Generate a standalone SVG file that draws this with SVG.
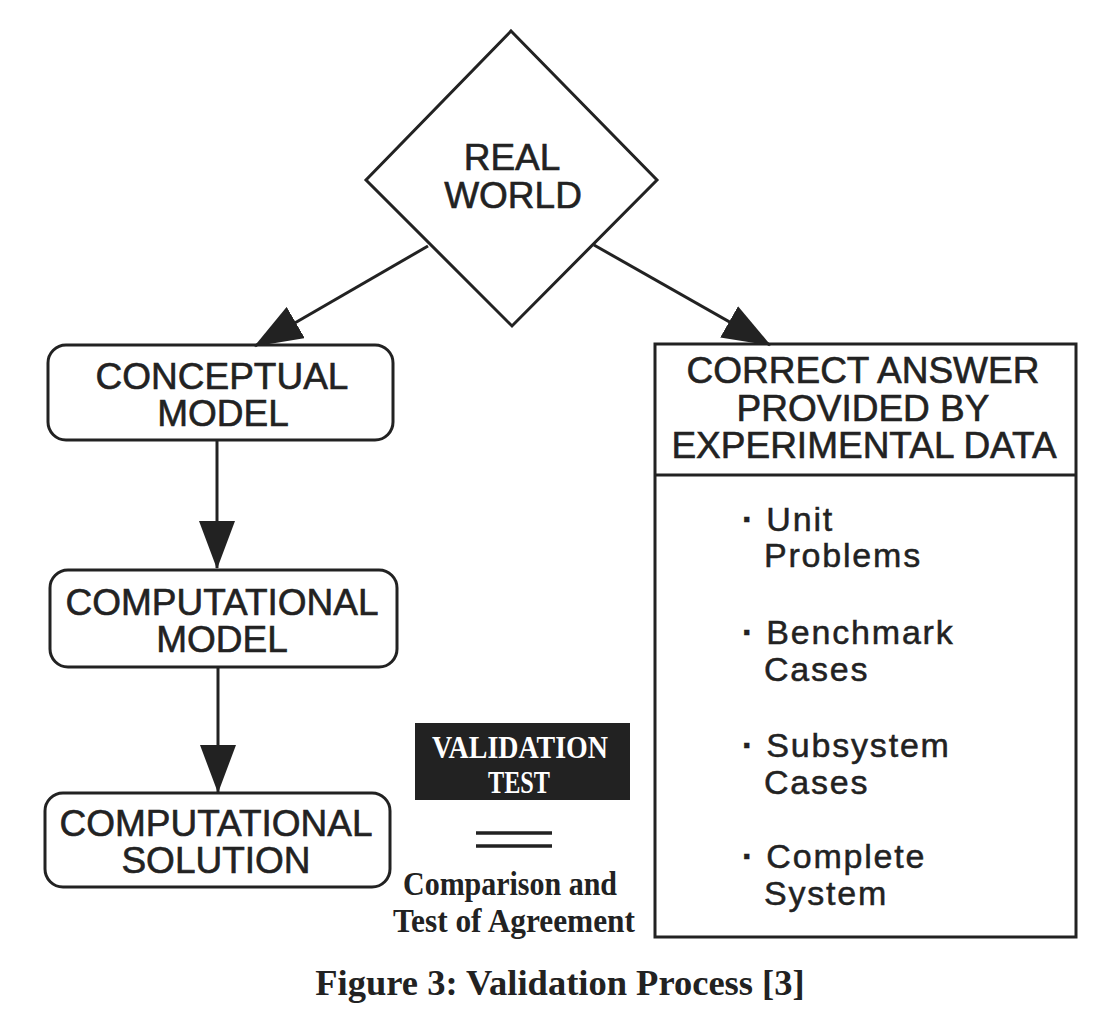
<svg xmlns="http://www.w3.org/2000/svg" width="1095" height="1021" viewBox="0 0 1095 1021">
<style>
.shape{fill:#fff;stroke:#222;stroke-width:3}
.lbl{font-family:"Liberation Sans",Arial,Helvetica,sans-serif;font-size:37px;fill:#222;stroke:#222;stroke-width:0.6px;text-anchor:middle}
.item{font-family:"Liberation Sans",Arial,Helvetica,sans-serif;font-size:34px;fill:#222;stroke:#222;stroke-width:0.5px;letter-spacing:1.8px}
.dot{font-weight:bold}
.serif{font-family:"Liberation Serif","Times New Roman",serif;font-weight:bold;fill:#222}
.conn{stroke:#222;stroke-width:3;fill:none}
</style>
<defs>
<marker id="ah" markerUnits="userSpaceOnUse" markerWidth="48" markerHeight="36" viewBox="0 0 48 36" refX="47" refY="18" orient="auto">
<path d="M0,0 L48,18 L0,36 z" fill="#222"/>
</marker>
</defs>
<rect width="1095" height="1021" fill="#fff"/>

<g id="real-world">
<polygon class="shape" points="511,31 657,180 512,326 366,180"/>
<text class="lbl" x="512" y="170">REAL</text>
<text class="lbl" x="513" y="208">WORLD</text>
</g>

<g id="conceptual-model">
<rect class="shape" x="48" y="345" width="345" height="95" rx="18"/>
<text class="lbl" x="222" y="389">CONCEPTUAL</text>
<text class="lbl" x="223" y="426">MODEL</text>
</g>

<g id="computational-model">
<rect class="shape" x="50" y="570" width="347" height="97" rx="18"/>
<text class="lbl" x="222" y="615">COMPUTATIONAL</text>
<text class="lbl" x="222" y="652">MODEL</text>
</g>

<g id="computational-solution">
<rect class="shape" x="45" y="793" width="345" height="94" rx="18"/>
<text class="lbl" x="216" y="836">COMPUTATIONAL</text>
<text class="lbl" x="216" y="873">SOLUTION</text>
</g>

<g id="correct-answer">
<rect class="shape" x="655" y="344" width="421" height="593"/>
<line x1="655" y1="475" x2="1076" y2="475" stroke="#222" stroke-width="3"/>
<text class="lbl" x="863" y="383">CORRECT ANSWER</text>
<text class="lbl" x="863" y="421">PROVIDED BY</text>
<text class="lbl" x="864" y="458">EXPERIMENTAL DATA</text>
<text class="item" x="742" y="531"><tspan class="dot">·</tspan> Unit</text>
<text class="item" x="764" y="567">Problems</text>
<text class="item" x="742" y="644"><tspan class="dot">·</tspan> Benchmark</text>
<text class="item" x="764" y="681">Cases</text>
<text class="item" x="742" y="757"><tspan class="dot">·</tspan> Subsystem</text>
<text class="item" x="764" y="794">Cases</text>
<text class="item" x="742" y="868"><tspan class="dot">·</tspan> Complete</text>
<text class="item" x="764" y="905">System</text>
</g>

<g id="validation-test">
<rect x="415" y="723" width="215" height="77" fill="#222"/>
<text class="serif" x="432" y="758" font-size="32" style="fill:#fff" textLength="176" lengthAdjust="spacingAndGlyphs">VALIDATION</text>
<text class="serif" x="488" y="793" font-size="32" style="fill:#fff" textLength="62" lengthAdjust="spacingAndGlyphs">TEST</text>
<line x1="476" y1="833" x2="552" y2="833" stroke="#222" stroke-width="3.5"/>
<line x1="476" y1="846" x2="552" y2="846" stroke="#222" stroke-width="3.5"/>
<text class="serif" x="403" y="895" font-size="34" textLength="214" lengthAdjust="spacingAndGlyphs">Comparison and</text>
<text class="serif" x="393" y="932" font-size="34" textLength="242" lengthAdjust="spacingAndGlyphs">Test of Agreement</text>
</g>

<g id="connectors">
<line class="conn" x1="428" y1="246" x2="255" y2="346" marker-end="url(#ah)"/>
<line class="conn" x1="594" y1="245" x2="770" y2="345" marker-end="url(#ah)"/>
<line class="conn" x1="217" y1="440" x2="217" y2="568" marker-end="url(#ah)"/>
<line class="conn" x1="218" y1="667" x2="218" y2="792" marker-end="url(#ah)"/>
</g>

<text class="serif" x="560" y="995" font-size="36.5" text-anchor="middle">Figure 3: Validation Process [3]</text>
</svg>
